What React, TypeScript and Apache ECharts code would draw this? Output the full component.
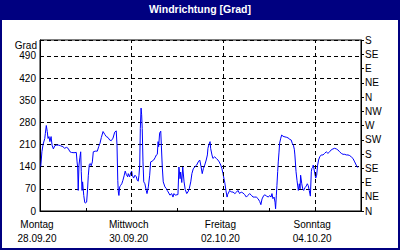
import React, { useEffect, useRef } from 'react';
import * as echarts from 'echarts';

// hours since Monday 28.09.2020 00:00
const hours = [0.4,1.0,1.6,2.5,2.8,3.3,3.8,4.2,4.7,5.2,5.8,6.3,7.0,7.7,8.5,9.8,10.8,12.0,12.9,13.8,14.7,15.7,16.4,17.8,19.0,19.4,19.7,20.0,20.4,20.9,21.3,21.6,22.0,22.3,22.9,23.4,23.7,24.4,24.8,25.3,25.8,26.3,26.8,27.4,27.9,28.9,30.0,30.7,31.4,32.1,33.0,33.9,34.7,35.6,36.5,37.3,38.2,39.1,39.9,40.3,40.7,41.0,41.3,41.7,42.2,42.8,43.4,44.1,44.6,45.2,45.9,46.2,46.9,47.5,48.0,48.3,49.0,49.7,50.4,50.9,51.4,51.8,52.2,52.5,52.9,53.2,53.5,53.9,54.3,54.9,55.6,56.0,56.7,57.4,57.9,58.6,59.5,60.2,60.9,61.4,61.8,62.1,62.6,63.2,63.5,64.0,64.5,65.4,66.1,66.6,67.1,68.0,68.9,69.6,70.1,70.8,72.2,72.7,73.3,73.6,74.2,74.7,75.4,76.0,76.8,77.4,78.1,78.9,79.5,80.2,81.1,82.0,82.8,83.6,84.3,84.9,85.5,86.2,87.0,87.6,87.9,88.4,89.0,89.3,90.0,90.5,91.4,92.3,93.1,93.8,94.6,95.2,95.8,96.3,96.7,97.3,97.9,98.2,99.3,100.1,101.0,102.0,102.9,103.6,104.5,105.3,106.2,107.1,108.0,108.8,109.7,110.6,111.5,112.4,113.2,114.1,115.0,115.6,116.2,117.1,117.7,118.6,119.5,120.2,120.9,121.4,121.9,122.5,123.0,123.3,123.7,124.0,124.4,124.7,125.1,125.4,126.0,126.5,127.2,128.2,128.9,129.8,130.8,131.5,132.0,132.6,133.1,133.4,134.0,134.5,135.2,135.7,136.1,136.4,137.0,137.5,138.0,138.7,139.4,139.9,140.4,140.9,141.5,142.0,142.3,142.7,143.0,144.3,144.8,145.3,145.8,146.4,147.2,148.1,149.0,149.8,150.7,151.6,152.4,153.3,154.2,155.1,155.9,156.8,157.7,158.6,159.5,160.3,161.2,162.1,162.9,163.8,164.7,165.5,166.3];

// wind direction in degrees
const direction = [140,187,210,229,245,270,251,229,235,219,235,208,196,206,208,208,206,203,198,201,198,187,185,184,185,155,139,65,145,170,187,124,65,92,49,28,25,28,60,113,147,150,143,155,187,189,189,203,214,232,251,242,235,232,224,222,230,249,253,208,97,60,49,76,81,86,97,113,126,115,108,118,108,121,126,113,104,113,108,97,94,113,145,261,325,304,261,155,92,86,65,55,76,113,155,157,161,168,177,179,219,203,246,252,208,139,92,76,71,65,60,50,55,44,55,50,52,139,102,123,90,139,92,68,55,60,70,92,118,133,140,145,155,161,140,118,134,145,161,177,198,210,219,198,177,166,171,166,161,155,145,134,118,101,90,65,44,52,65,60,60,55,60,65,55,60,57,52,44,49,55,50,44,44,44,39,30,20,38,49,51,47,44,49,44,55,39,44,28,7,50,81,125,155,186,214,230,240,236,234,233,231,226,224,214,208,195,177,124,97,65,86,70,113,86,70,65,74,79,86,80,65,47,124,135,138,145,104,113,145,161,171,177,177,182,187,182,187,193,196,198,196,193,187,182,179,179,177,177,175,171,166,155,145,137];

const dayNames = ['Montag','Dienstag','Mittwoch','Donnerstag','Freitag','Samstag','Sonntag','Montag'];
const dates = ['28.09.20','29.09.20','30.09.20','01.10.20','02.10.20','03.10.20','04.10.20','05.10.20'];
const gridHours = [48, 96, 144];
const compass = ['N','NE','E','SE','S','SW','W','NW','N','NE','E','SE','S'];

const FONT = 'Liberation Sans';

export default function App() {
  const ref = useRef<HTMLDivElement>(null);
  useEffect(() => {
    const chart = echarts.init(ref.current!, null, { renderer: 'svg' });
    const data = hours.map((h, i) => [h, direction[i]]);
    chart.setOption({
      animation: false,
      backgroundColor: '#fff',
      title: {
        text: 'Windrichtung [Grad]',
        left: 'center',
        top: 3,
        padding: 0,
        textStyle: { color: '#fff', fontFamily: FONT, fontWeight: 'bold', fontSize: 10.5 },
      },
      graphic: [
        { type: 'rect', z: 0, shape: { x: 0, y: 0, width: 400, height: 20 }, style: { fill: '#000080' } },
        { type: 'rect', z: 0, shape: { x: 1, y: 1, width: 398, height: 248 }, style: { fill: 'none', stroke: '#000080', lineWidth: 2 } },
        { type: 'text', x: 37, y: 45, style: { text: 'Grad', align: 'right', verticalAlign: 'middle', fontFamily: FONT, fontSize: 10, fill: '#000' } },
      ],
      grid: { left: 40, right: 39, top: 40, bottom: 39, show: true, borderColor: '#000', borderWidth: 1, backgroundColor: 'transparent' },
      xAxis: {
        type: 'value',
        min: 0,
        max: 168,
        interval: 24,
        axisLine: { show: true, lineStyle: { color: '#000', width: 1 } },
        axisTick: { show: true, inside: true, length: 3, lineStyle: { color: '#000' } },
        splitLine: { show: false },
        axisLabel: {
          margin: 6,
          fontFamily: FONT,
          fontSize: 10,
          color: '#000',
          lineHeight: 14,
          padding: [0, 6, 0, 0],
          showMaxLabel: true,
          formatter: (v: number) => {
            const d = Math.round(v / 24);
            if (v % 48 === 0 && v < 168) return dayNames[d] + '\n' + dates[d];
            return '';
          },
        },
      },
      yAxis: [
        {
          type: 'value',
          min: 0,
          max: 540,
          interval: 70,
          position: 'left',
          axisLine: { show: true, lineStyle: { color: '#000' } },
          axisTick: { show: false },
          splitLine: { show: true, lineStyle: { color: '#000', type: [4, 3], width: 1 } },
          axisLabel: {
            margin: 4,
            fontFamily: FONT,
            fontSize: 10,
            color: '#000',
            formatter: (v: number) => (v > 490 ? '' : String(v)),
          },
        },
        {
          type: 'value',
          min: 0,
          max: 540,
          interval: 45,
          position: 'right',
          axisLine: { show: true, lineStyle: { color: '#000' } },
          axisTick: { show: true, inside: false, length: 3, lineStyle: { color: '#000' } },
          splitLine: { show: false },
          axisLabel: {
            margin: 4,
            fontFamily: FONT,
            fontSize: 10,
            color: '#000',
            formatter: (v: number) => compass[Math.round(v / 45)] ?? '',
          },
        },
      ],
      series: [
        {
          type: 'line',
          data,
          yAxisIndex: 0,
          showSymbol: false,
          symbol: 'none',
          lineStyle: { color: '#0000ff', width: 1 },
          markLine: {
            silent: true,
            symbol: 'none',
            label: { show: false },
            lineStyle: { color: '#000', type: [4, 3], width: 1 },
            data: gridHours.map((h) => ({ xAxis: h })),
          },
        },
      ],
    });
    return () => chart.dispose();
  }, []);
  return <div ref={ref} style={{ position: 'fixed', left: 0, top: 0, width: 400, height: 250 }} />;
}
